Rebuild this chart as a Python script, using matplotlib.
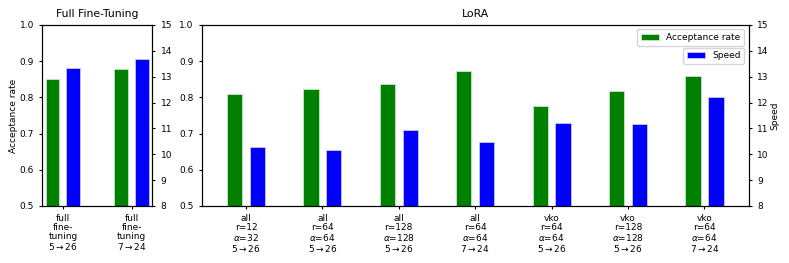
import numpy as np
import matplotlib
matplotlib.use('Agg')
import matplotlib.pyplot as plt

# full fine-tuning
ft_labels = ['full\nfine-\ntuning\n5$\\rightarrow$26',
             'full\nfine-\ntuning\n7$\\rightarrow$24']
ft_acc = [0.851, 0.878]
ft_speed = [13.35, 13.69]

# lora
lora_labels = ['all\nr=12\n$\\alpha$=32\n5$\\rightarrow$26',
               'all\nr=64\n$\\alpha$=64\n5$\\rightarrow$26',
               'all\nr=128\n$\\alpha$=128\n5$\\rightarrow$26',
               'all\nr=64\n$\\alpha$=64\n7$\\rightarrow$24',
               'vko\nr=64\n$\\alpha$=64\n5$\\rightarrow$26',
               'vko\nr=128\n$\\alpha$=128\n5$\\rightarrow$26',
               'vko\nr=64\n$\\alpha$=64\n7$\\rightarrow$24']
lora_acc = [0.809, 0.824, 0.838, 0.872, 0.777, 0.818, 0.859]
lora_speed = [10.28, 10.15, 10.93, 10.48, 11.20, 11.16, 12.22]

plt.rcParams['font.size'] = 6.5
plt.rcParams['xtick.major.size'] = 2.5
plt.rcParams['ytick.major.size'] = 2.5

fig = plt.figure(figsize=[7.89, 2.63], dpi=100)
ax1 = fig.add_axes([0.0536, 0.217, 0.1394, 0.688])
ax2 = fig.add_axes([0.2556, 0.217, 0.6934, 0.688])

w = 0.2
off = 0.15


def bars(ax, labels, acc, speed, xpad):
    x = np.arange(len(labels))
    ax.bar(x - off, acc, width=w, color='green', edgecolor='#c8e6c8',
           linewidth=0.6, label='Acceptance rate')
    ax.set_ylim(0.5, 1.0)
    ax.set_xticks(x)
    ax.set_xticklabels(labels, linespacing=1.0)
    ax.set_xlim(-xpad, len(labels) - 1 + xpad)
    axt = ax.twinx()
    axt.bar(x + off, speed, width=w, color='blue', edgecolor='#c8c8f0',
            linewidth=0.6, label='Speed')
    axt.set_ylim(8, 15)
    return axt


t1 = bars(ax1, ft_labels, ft_acc, ft_speed, 0.3)
ax1.set_ylabel('Acceptance rate', labelpad=1)
ax1.set_title('Full Fine-Tuning')

t2 = bars(ax2, lora_labels, lora_acc, lora_speed, 0.58)
t2.set_ylabel('Speed', labelpad=1)
ax2.set_title('LoRA')
ax2.legend(loc='upper right')
t2.legend(loc='upper right', bbox_to_anchor=(1, 0.9))

fig.savefig('out.png', dpi=100)
